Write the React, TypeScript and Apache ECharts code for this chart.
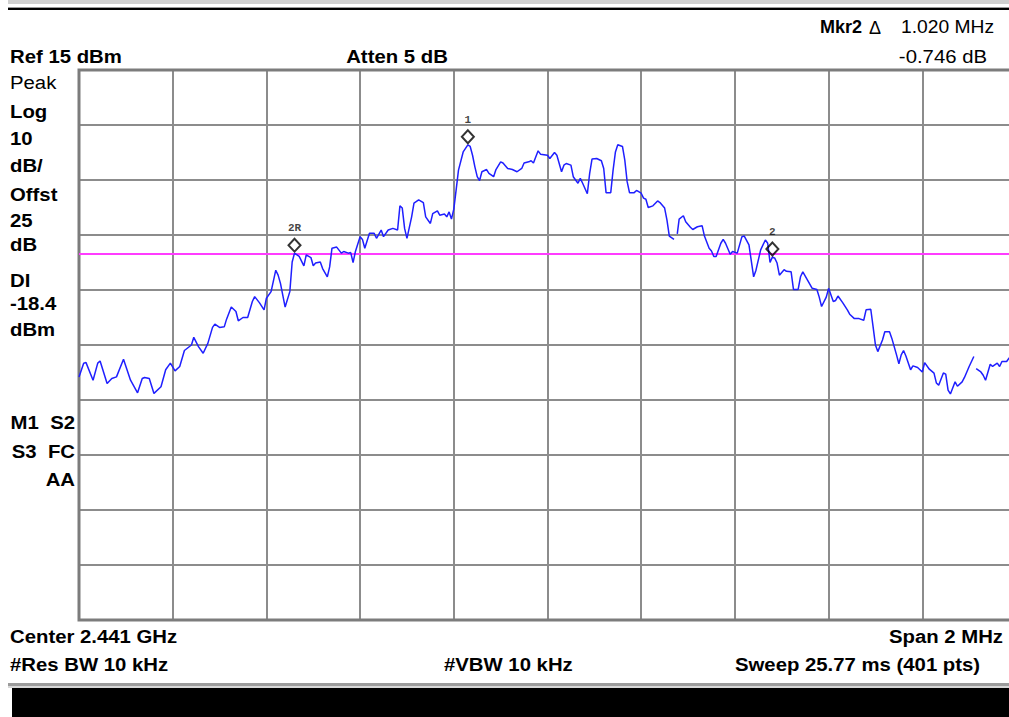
import React, { useEffect, useRef } from "react";
import * as echarts from "echarts";

// Trace: frequency offset from centre (kHz) and level (dBm); null = gap in the trace
const freqKHz = [
  -1000, -990, -985, -970, -960, -955, -940, -930, -920, -905, -890, -875, -865, -860, -850, -840,
  -825, -815, -805, -795, -785, -775, -760, -755, -745, -735, -725, -715, -710, -700, -690, -685,
  -675, -665, -660, -650, -640, -630, -625, -615, -605, -600, -590, -580, -575, -570, -560, -550,
  -545, -540, -530, -520, -515, -505, -500, -495, -485, -480, -470, -465, -460, -450, -440, -435,
  -425, -420, -415, -410, -400, -395, -390, -380, -370, -365, -355, -350, -340, -330, -320, -315,
  -310, -305, -300, -290, -285, -275, -265, -260, -250, -245, -235, -230, -220, -215, -210, -205,
  -200, -195, -190, -180, -170, -165, -160, -155, -150, -145, -140, -130, -125, -115, -110, -100,
  -95, -85, -75, -65, -55, -50, -40, -35, -30, -20, -15, 0, 5, 15, 20, 30,
  35, 40, 50, 55, 65, 70, 75, 85, 90, 95, 105, 115, 120, 125, 135, 140,
  145, 150, 160, 165, 170, 175, 185, 190, 200, 205, 210, 215, 225, 235, 240, 250,
  255, 260, 270, 273, 277, 281, 290, 295, 305, 310, 320, 330, 335, 345, 350, 355,
  360, 370, 375, 380, 390, 395, 405, 415, 420, 430, 440, 445, 455, 465, 470, 475,
  480, 485, 490, 495, 505, 510, 520, 525, 535, 540, 545, 555, 565, 575, 580, 585,
  595, 600, 610, 615, 620, 630, 640, 645, 655, 665, 675, 680, 690, 695, 700, 705,
  715, 720, 730, 735, 745, 750, 755, 760, 765, 775, 780, 790, 800, 805, 815, 825,
  830, 835, 845, 850, 855, 860, 870, 875, 885, 890, 900, 910, 912, 915, 925, 930,
  935, 945, 950, 960, 965, 970, 980, 985, 995,
];
const levelDbm: (number | null)[] = [
  -40.8, -38.3, -38.2, -41.4, -38.3, -37.9, -42.0, -41.1, -40.8, -37.6, -41.4, -43.7, -41.1, -40.9, -41.1, -43.8,
  -42.6, -39.5, -38.3, -39.7, -38.9, -36.0, -35.0, -33.6, -35.3, -36.5, -34.7, -31.8, -31.2, -31.8, -31.7, -30.3,
  -28.1, -28.9, -30.6, -30.0, -30.0, -27.1, -26.2, -27.3, -28.6, -26.5, -25.3, -21.4, -22.3, -23.8, -28.1, -25.3,
  -19.9, -18.3, -18.9, -20.6, -18.6, -19.1, -20.6, -20.1, -19.9, -21.1, -22.6, -20.8, -17.4, -17.2, -18.3, -18.0,
  -18.3, -18.2, -20.0, -18.0, -15.3, -15.8, -17.4, -14.7, -14.7, -15.6, -14.1, -15.3, -14.1, -13.8, -14.1, -9.7,
  -10.1, -13.8, -15.6, -11.7, -9.2, -8.6, -9.1, -11.7, -12.9, -11.1, -10.6, -11.4, -11.2, -11.7, -10.8, -12.1,
  -10.3, -6.8, -3.2, 0.1, 1.4, 1.1, -0.5, -2.6, -4.4, -5.1, -3.5, -3.1, -3.8, -4.4, -3.1, -1.7,
  -1.9, -2.9, -3.1, -3.5, -2.9, -1.9, -1.7, -1.5, -1.9, 0.3, -0.3, -0.5, -1.1, 0.0, -0.5, -3.5,
  -2.3, -2.0, -2.3, -4.4, -5.6, -4.7, -5.6, -7.5, -3.8, -1.2, -1.1, -1.5, -2.9, -7.3, -7.3, -3.2,
  0.1, 1.4, 1.1, -1.4, -5.3, -7.3, -7.3, -6.9, -7.4, -8.3, -8.5, -10.0, -9.7, -8.8, -9.1, -10.1,
  -12.3, -15.2, -15.8, null, -14.8, -12.1, -11.5, -12.6, -13.6, -14.0, -13.5, -13.3, -15.2, -17.4, -17.9, -18.9,
  -18.9, -16.5, -15.8, -16.5, -18.5, -18.0, -18.3, -15.3, -15.2, -16.8, -22.6, -21.4, -17.7, -15.9, -16.5, -20.0,
  -19.0, -19.2, -20.1, -22.3, -21.3, -21.6, -21.7, -24.9, -24.9, -22.6, -21.7, -23.2, -24.7, -24.9, -26.3, -28.0,
  -26.3, -24.7, -27.1, -26.9, -26.1, -27.3, -28.6, -29.4, -30.2, -30.2, -30.5, -28.6, -28.5, -31.7, -35.0, -36.2,
  -34.1, -32.6, -32.6, -33.8, -36.8, -38.4, -36.8, -36.0, -37.0, -39.5, -38.8, -39.1, -39.9, -38.2, -39.4, -40.1,
  -41.9, -42.3, -40.1, -40.3, -43.2, -43.9, -41.7, -42.5, -41.7, -40.9, -38.9, -37.1, null, -39.3, -39.9, -40.5,
  -41.4, -38.5, -38.9, -38.3, -38.9, -38.0, -38.0, -37.4, -37.0,
];

// Markers
const markerNames = ["1", "2R", "2"];
const markerFreqKHz = [-170, -540, 480];
const markerLevelDbm = [1.4, -18.3, -19.0];

// Scale settings
const refLevelDbm = 15;
const dbPerDiv = 10;
const numDivs = 10;
const spanKHz = 2000;
const displayLineDbm = -18.4;

// Annotation texts
const headerTexts = {
  mkrLabel: "Mkr2",
  mkrDelta: "\u0394",
  mkrFreq: "1.020 MHz",
  mkrLevel: "-0.746 dB",
  ref: "Ref 15 dBm",
  atten: "Atten 5 dB",
};
const sideLabels = ["Peak", "Log", "10", "dB/", "Offst", "25", "dB", "DI", "-18.4", "dBm"];
const statusLabels = ["M1  S2", "S3  FC", "AA"];
const footerTexts = {
  center: "Center 2.441 GHz",
  span: "Span 2 MHz",
  rbw: "#Res BW 10 kHz",
  vbw: "#VBW 10 kHz",
  sweep: "Sweep 25.77 ms (401 pts)",
};

const FF = '"Liberation Sans", Arial, sans-serif';
const BOLD = `bold 18px ${FF}`;
const REG = `18px ${FF}`;
const SX = 1.13;

function txt(text: string, x: number, y: number, font: string, align = "left", scaleX = SX) {
  return {
    type: "text",
    x,
    y,
    scaleX,
    z: 100,
    style: { text, font, fill: "#000", textAlign: align, textVerticalAlign: "middle" },
  };
}

export default function App() {
  const ref = useRef<HTMLDivElement>(null);
  useEffect(() => {
    const chart = echarts.init(ref.current!, null, { renderer: "svg" });
    const trace = freqKHz.map((f, i) => [f, levelDbm[i] === null ? "-" : levelDbm[i]]);
    const markers = markerNames.map((n, i) => ({ name: n, value: [markerFreqKHz[i], markerLevelDbm[i]] }));
    const sideY = [83, 112, 139, 166, 195, 221, 245, 281, 304, 330];
    const statusY = [423, 452, 480];

    const graphic: any[] = [
      { type: "rect", shape: { x: 8, y: 0, width: 1010, height: 4 }, style: { fill: "#d0d0d0" } },
      { type: "rect", shape: { x: 8, y: 7, width: 1010, height: 1 }, style: { fill: "#9a9a9a" } },
      { type: "rect", shape: { x: 8, y: 8, width: 1010, height: 2 }, style: { fill: "#000" } },
      txt(headerTexts.mkrLabel, 820, 27, BOLD, "left", 1),
      txt(headerTexts.mkrDelta, 869, 28, REG, "left", 1),
      txt(headerTexts.mkrFreq, 994, 27, REG, "right", 1.07),
      txt(headerTexts.mkrLevel, 987, 57, REG, "right"),
      txt(headerTexts.ref, 10, 57, BOLD),
      txt(headerTexts.atten, 397, 57, BOLD, "center"),
      ...sideLabels.map((s, i) => txt(s, 10, sideY[i], i === 0 ? REG : BOLD)),
      ...statusLabels.map((s, i) => txt(s, 75, statusY[i], BOLD, "right")),
      txt(footerTexts.center, 10, 637, BOLD),
      txt(footerTexts.span, 1003, 637, BOLD, "right"),
      txt(footerTexts.rbw, 10, 665, BOLD),
      txt(footerTexts.vbw, 444, 665, BOLD),
      txt(footerTexts.sweep, 735, 665, BOLD),
      { type: "rect", shape: { x: 8, y: 683, width: 1010, height: 3 }, style: { fill: "#9c9c9c" } },
      { type: "rect", shape: { x: 8, y: 686, width: 1010, height: 2 }, style: { fill: "#d8d8d8" } },
      { type: "rect", shape: { x: 12, y: 688, width: 1010, height: 40 }, style: { fill: "#000" } },
    ];

    chart.setOption({
      animation: false,
      backgroundColor: "#fff",
      graphic,
      grid: {
        left: 79,
        top: 70,
        width: 937,
        height: 550,
        show: true,
        borderColor: "#7c7c7c",
        borderWidth: 3,
        backgroundColor: "transparent",
        z: 3,
      },
      xAxis: {
        type: "value",
        min: -spanKHz / 2,
        max: spanKHz / 2,
        interval: spanKHz / numDivs,
        axisLine: { show: false },
        axisTick: { show: false },
        axisLabel: { show: false },
        splitLine: { show: true, lineStyle: { color: "#8c8c8c", width: 2 } },
      },
      yAxis: [
        {
          type: "value",
          min: refLevelDbm - dbPerDiv * numDivs,
          max: refLevelDbm,
          axisLine: { show: false },
          axisTick: { show: false },
          axisLabel: { show: false },
          splitLine: { show: false },
        },
        {
          type: "value",
          min: 0,
          max: numDivs,
          interval: 1,
          position: "left",
          axisLine: { show: false },
          axisTick: { show: false },
          axisLabel: { show: false },
          splitLine: { show: true, lineStyle: { color: "#8c8c8c", width: 2 } },
        },
      ],
      series: [
        {
          type: "line",
          yAxisIndex: 0,
          data: trace,
          showSymbol: false,
          connectNulls: false,
          lineStyle: { color: "#1f1fff", width: 1.5 },
          z: 5,
          markLine: {
            silent: true,
            symbol: "none",
            label: { show: false },
            lineStyle: { color: "#ff3cff", width: 2, type: "solid" },
            data: [{ yAxis: displayLineDbm }],
          },
        },
        {
          type: "scatter",
          yAxisIndex: 0,
          data: markers,
          symbol: "diamond",
          symbolSize: [12, 13],
          symbolOffset: [0, -8],
          itemStyle: { color: "rgba(0,0,0,0)", borderColor: "#000", borderWidth: 2 },
          label: {
            show: true,
            formatter: "{b}",
            position: "top",
            distance: 2,
            offset: [0, -2],
            color: "#111",
            fontFamily: '"Liberation Mono", "DejaVu Sans Mono", monospace',
            fontWeight: "bold",
            fontSize: 11,
          },
          z: 6,
        },
      ],
    });
    return () => chart.dispose();
  }, []);
  return (
    <div
      style={{
        position: "fixed",
        left: 0,
        top: 0,
        width: 1009,
        height: 717,
        overflow: "hidden",
        background: "#fff",
      }}
    >
      <div ref={ref} style={{ width: 1020, height: 717 }} />
    </div>
  );
}
